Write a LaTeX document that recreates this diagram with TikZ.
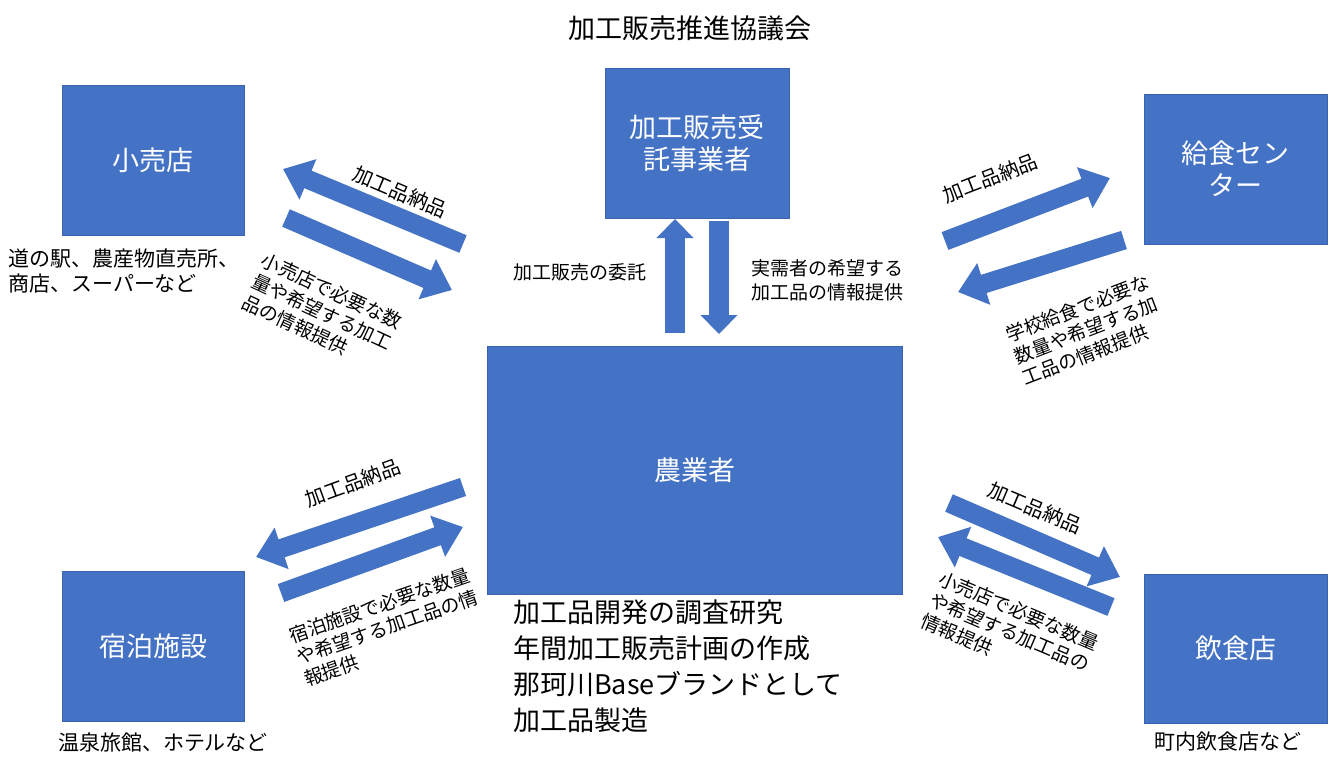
\documentclass[tikz,border=0pt]{standalone}
\usepackage{fontspec}
\setmainfont{Noto Sans CJK JP}
\usetikzlibrary{arrows.meta}
\definecolor{pblue}{HTML}{4472C4}
\definecolor{pedge}{HTML}{3A62AE}
\tikzset{
  box/.style={draw=pedge, line width=1pt, fill=pblue, text=white, inner sep=0pt, font=\fontsize{27}{32}\selectfont, align=center},
  blk/.style={draw=pblue, line width=19pt, -{Triangle[width=42pt,length=27pt]}},
  vblk/.style={draw=pblue, line width=20pt, -{Triangle[width=36pt,length=19pt]}},
  lbl/.style={font=\fontsize{20}{24}\selectfont, text=black, inner sep=0pt, align=left},
  big/.style={font=\fontsize{27}{36}\selectfont, text=black, inner sep=0pt, align=left},
}
\begin{document}
\begin{tikzpicture}[x=1pt,y=-1pt]
\useasboundingbox[fill=white] (0,0) rectangle (1331,756);
% boxes
\node[box, minimum width=182pt, minimum height=150pt] (retail) at (153,160) {小売店};
\node[box, minimum width=184pt, minimum height=150pt] (contract) at (697,143) {加工販売受\\託事業者};
\node[box, minimum width=183pt, minimum height=150pt] (lunch) at (1235.5,169) {給食セン\\ター};
\node[box, minimum width=415pt, minimum height=248pt] (farmer) at (694.5,470) {農業者};
\node[box, minimum width=182pt, minimum height=150pt] (hotel) at (153,646) {宿泊施設};
\node[box, minimum width=183pt, minimum height=149pt] (rest) at (1235.5,648.5) {飲食店};
% texts
\node[big, anchor=center] (title) at (690,28) {加工販売推進協議会};
\node[lbl, font=\fontsize{21}{25}\selectfont, anchor=north west] (retailnote) at (8,249) {道の駅、農産物直売所、\\商店、スーパーなど};
\node[lbl, font=\fontsize{21}{25}\selectfont] (hotelnote) at (163,742) {温泉旅館、ホテルなど};
\node[lbl, font=\fontsize{21}{25}\selectfont] (restnote) at (1228,742) {町内飲食店など};
\node[big, anchor=north west] (farmnote) at (513,600) {加工品開発の調査研究\\年間加工販売計画の作成\\那珂川Baseブランドとして\\加工品製造};
% vertical arrows
\coordinate (u1) at (675,333);
\coordinate (u2) at (675,219);
\coordinate (d1) at (719,221);
\coordinate (d2) at (719,334);
\draw[vblk] (u1) -- (u2);
\draw[vblk] (d1) -- (d2);
\node[lbl, font=\fontsize{19}{24}\selectfont] (commis) at (580,272) {加工販売の委託};
\node[lbl, font=\fontsize{19}{24}\selectfont, anchor=west] (demand) at (751,280) {実需者の希望する\\加工品の情報提供};
% top-left
\coordinate (a1t) at (463,244);
\coordinate (a1h) at (283,169);
\coordinate (a2t) at (286,218);
\coordinate (a2h) at (452,290);
\draw[blk] (a1t) -- (a1h);
\draw[blk] (a2t) -- (a2h);
\node[lbl, rotate=-23] (l1) at (400,192) {加工品納品};
\node[lbl, font=\fontsize{19}{23}\selectfont, rotate=-25] (l2) at (322,312) {小売店で必要な数\\量や希望する加工\\品の情報提供};
% top-right
\coordinate (a3t) at (945,241);
\coordinate (a3h) at (1110,178);
\coordinate (a4t) at (1124,240);
\coordinate (a4h) at (958,292);
\draw[blk] (a3t) -- (a3h);
\draw[blk] (a4t) -- (a4h);
\node[lbl, rotate=21] (l3) at (990,178) {加工品納品};
\node[lbl, font=\fontsize{19}{23}\selectfont, rotate=21] (l4) at (1086,330) {学校給食で必要な\\数量や希望する加\\工品の情報提供};
% bottom-left
\coordinate (a5t) at (463,487);
\coordinate (a5h) at (256,557);
\coordinate (a6t) at (281,593);
\coordinate (a6h) at (463,527);
\draw[blk] (a5t) -- (a5h);
\draw[blk] (a6t) -- (a6h);
\node[lbl, rotate=20] (l5) at (353,483) {加工品納品};
\node[lbl, font=\fontsize{19}{23}\selectfont, rotate=19] (l6) at (387,627) {宿泊施設で必要な数量\\や希望する加工品の情\\報提供};
% bottom-right
\coordinate (a7t) at (949,503);
\coordinate (a7h) at (1120,577);
\coordinate (a8t) at (1111,607);
\coordinate (a8h) at (938,537);
\draw[blk] (a7t) -- (a7h);
\draw[blk] (a8t) -- (a8h);
\node[lbl, rotate=-23] (l7) at (1035,508) {加工品納品};
\node[lbl, font=\fontsize{19}{23}\selectfont, rotate=-23] (l8) at (1010,632) {小売店で必要な数量\\や希望する加工品の\\情報提供};
\end{tikzpicture}
\end{document}
